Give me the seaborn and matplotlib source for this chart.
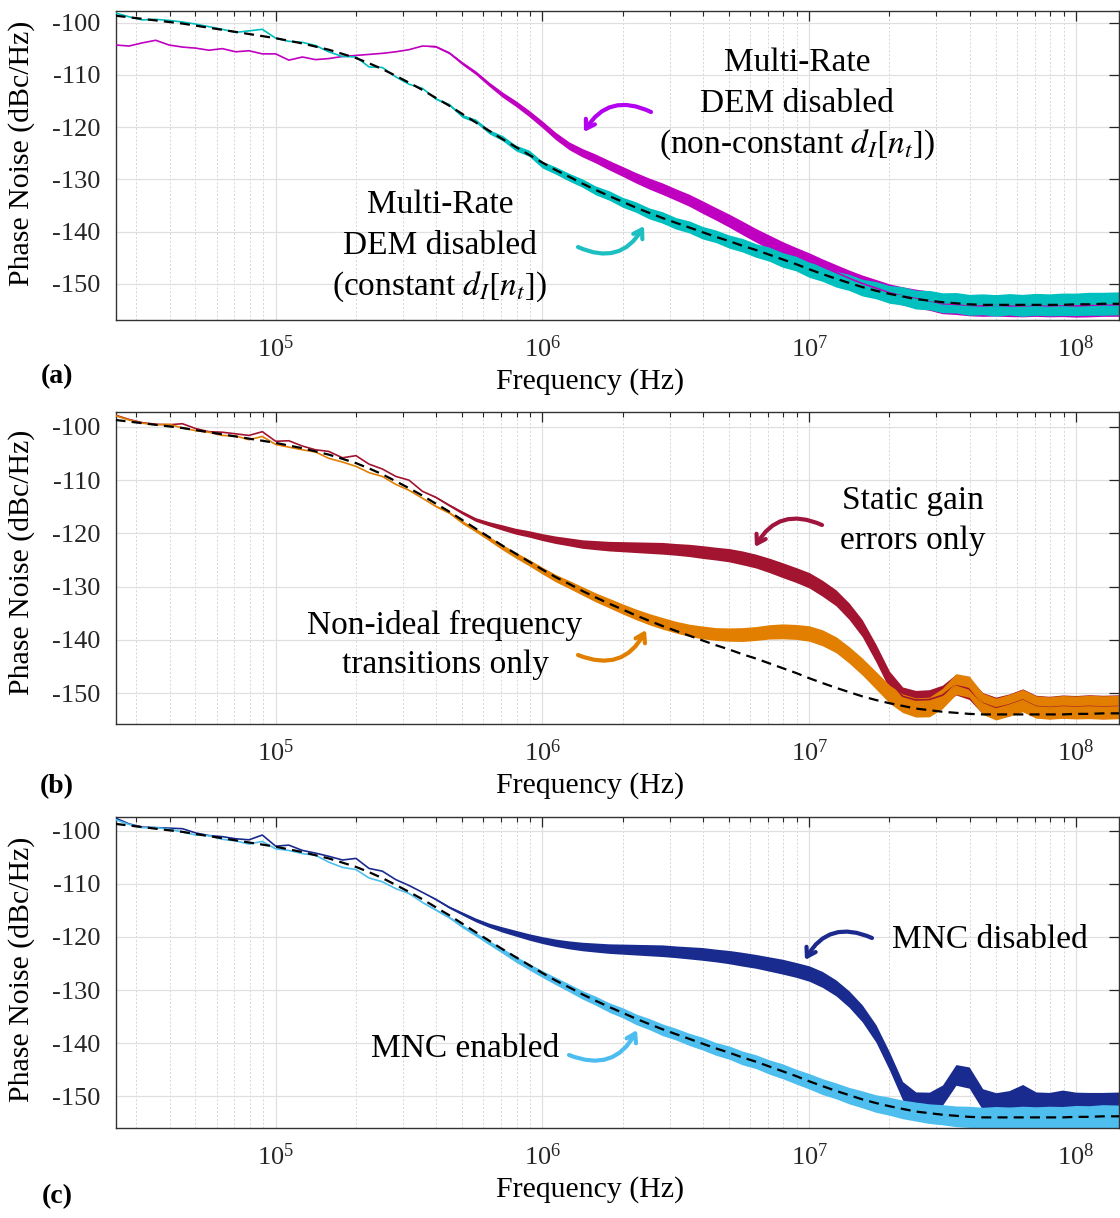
import numpy as np
import matplotlib
matplotlib.use('Agg')
import matplotlib.pyplot as plt
from matplotlib.ticker import LogLocator, NullFormatter, MultipleLocator
import seaborn as sns

# frequency grid (Hz), 0.05 decade steps
freq_hz = [2.51e4, 2.82e4, 3.16e4, 3.55e4, 3.98e4, 4.47e4, 5.01e4, 5.62e4, 6.31e4, 7.08e4, 7.94e4, 8.91e4,
           1.00e5, 1.12e5, 1.26e5, 1.41e5, 1.58e5, 1.78e5, 2.00e5, 2.24e5, 2.51e5, 2.82e5,
           3.16e5, 3.55e5, 3.98e5, 4.47e5, 5.01e5, 5.62e5, 6.31e5, 7.08e5, 7.94e5, 8.91e5,
           1.00e6, 1.12e6, 1.26e6, 1.41e6, 1.58e6, 1.78e6, 2.00e6, 2.24e6, 2.51e6, 2.82e6,
           3.16e6, 3.55e6, 3.98e6, 4.47e6, 5.01e6, 5.62e6, 6.31e6, 7.08e6, 7.94e6, 8.91e6,
           1.00e7, 1.12e7, 1.26e7, 1.41e7, 1.58e7, 1.78e7, 2.00e7, 2.24e7, 2.51e7, 2.82e7,
           3.16e7, 3.55e7, 3.98e7, 4.47e7, 5.01e7, 5.62e7, 6.31e7, 7.08e7, 7.94e7, 8.91e7,
           1.00e8, 1.12e8, 1.26e8, 1.50e8]

# dashed model curve (dBc/Hz)
model_pn = [-98.7, -99.0, -99.3, -99.6, -99.9, -100.2, -100.6, -101.0, -101.4, -101.8, -102.2, -102.6,
            -103.0, -103.5, -104.0, -104.6, -105.2, -106.0, -106.8, -107.8, -108.9, -110.2,
            -111.5, -112.9, -114.4, -115.9, -117.5, -119.1, -120.7, -122.3, -123.8, -125.3,
            -126.8, -128.2, -129.5, -130.8, -132.0, -133.2, -134.3, -135.4, -136.4, -137.4,
            -138.3, -139.2, -140.1, -141.0, -141.8, -142.7, -143.5, -144.4, -145.3, -146.2,
            -147.2, -148.1, -149.0, -149.8, -150.6, -151.3, -151.9, -152.4, -152.9, -153.2,
            -153.5, -153.7, -153.9, -154.0, -154.0, -154.0, -154.0, -154.0, -154.0, -154.0,
            -153.9, -153.9, -153.8, -153.8]

# half width of the noise band (dB)
spread_db = [0.0] * 24 + [
    0.15, 0.2, 0.3, 0.35, 0.4, 0.5, 0.55, 0.6,
    0.65, 0.7, 0.75, 0.8, 0.85, 0.9, 0.95, 1.0, 1.05, 1.1,
    1.1, 1.15, 1.2, 1.2, 1.25, 1.3, 1.3, 1.35, 1.4, 1.4,
    1.45, 1.5, 1.5, 1.55, 1.6, 1.65, 1.7, 1.75, 1.8, 1.85,
    1.9, 1.95, 2.0, 2.0, 2.05, 2.05, 2.1, 2.1, 2.1, 2.15,
    2.15, 2.2, 2.2, 2.2]

# (a) DEM disabled, non-constant / constant
pn_a_noncon = [-104.3, -104.5, -103.9, -103.4, -104.3, -104.7, -104.9, -105.3, -105.0, -105.6, -105.4, -106.0,
               -106.0, -107.2, -106.6, -107.1, -106.9, -106.5, -106.3, -106.1, -105.9, -105.6,
               -105.2, -104.5, -104.6, -105.8, -107.8, -109.6, -111.8, -113.8, -115.5, -117.4,
               -119.5, -121.7, -123.6, -124.9, -126.0, -127.3, -128.5, -129.7, -130.8, -131.8,
               -132.9, -134.0, -135.3, -136.6, -137.9, -139.3, -140.7, -142.0, -143.3, -144.4,
               -145.5, -146.7, -147.8, -148.9, -149.9, -150.8, -151.7, -152.3, -152.8, -153.2,
               -153.8, -153.9, -154.1, -154.2, -154.1, -154.2, -154.2, -154.1, -154.2, -154.1,
               -154.2, -154.1, -154.0, -154.0]
pn_a_con = [-98.2, -98.9, -99.5, -99.4, -99.6, -99.9, -100.3, -100.8, -101.3, -101.9, -101.6, -101.3,
            -103.0, -103.6, -103.8, -104.4, -105.6, -106.5, -106.6, -108.5, -108.6, -110.4,
            -111.8, -112.6, -114.6, -115.7, -117.9, -118.8, -120.9, -122.1, -124.0, -125.0,
            -127.2, -128.3, -129.6, -130.7, -132.1, -133.1, -134.4, -135.3, -136.5, -137.3,
            -138.4, -139.1, -140.2, -140.9, -141.9, -142.6, -143.6, -144.3, -145.4, -146.1,
            -147.3, -148.0, -149.1, -149.7, -150.7, -151.2, -152.0, -152.3, -153.0, -153.1,
            -153.6, -153.6, -154.0, -153.9, -154.1, -153.9, -154.1, -153.9, -154.0, -153.9,
            -153.9, -153.8, -153.8, -153.7]

# (b) static gain errors / non-ideal frequency transitions
pn_b_gain = [-97.8, -98.6, -99.2, -99.5, -99.6, -99.4, -100.3, -100.9, -101.0, -101.3, -101.6, -100.9,
             -102.7, -102.6, -103.6, -104.3, -104.6, -105.8, -105.4, -107.0, -107.9, -109.3,
             -110.0, -112.1, -113.2, -114.7, -116.1, -117.4, -118.2, -118.9, -119.6, -120.1,
             -120.7, -121.2, -121.6, -122.0, -122.2, -122.4, -122.5, -122.6, -122.7, -122.8,
             -123.0, -123.2, -123.5, -123.8, -124.1, -124.6, -125.2, -126.0, -126.9, -127.8,
             -128.8, -130.3, -132.1, -134.6, -137.8, -142.5, -147.6, -150.6, -151.3, -151.2,
             -150.4, -148.4, -149.2, -151.9, -152.8, -152.2, -151.3, -152.5, -152.7, -152.5,
             -152.6, -152.5, -152.6, -152.5]
pn_b_trans = [-97.9, -98.7, -99.3, -99.6, -99.5, -100.2, -100.7, -101.0, -101.6, -101.7, -102.4, -101.8,
              -103.3, -103.8, -104.3, -104.7, -105.9, -106.6, -107.4, -108.6, -109.3, -110.8,
              -111.9, -113.4, -114.9, -116.1, -117.9, -119.4, -121.0, -122.6, -124.1, -125.5,
              -127.0, -128.4, -129.6, -130.8, -132.0, -133.1, -134.2, -135.2, -136.1, -136.9,
              -137.6, -138.2, -138.6, -138.9, -139.0, -139.0, -138.8, -138.5, -138.4, -138.5,
              -138.8, -139.6, -140.9, -142.8, -145.0, -147.6, -150.2, -151.9, -152.7, -152.6,
              -151.0, -148.3, -148.8, -152.0, -153.0, -152.3, -151.4, -152.6, -152.8, -152.6,
              -152.7, -152.6, -152.7, -152.6]

# (c) MNC disabled / enabled
pn_c_off = [-97.6, -98.7, -99.3, -99.4, -99.5, -99.6, -100.4, -100.9, -101.1, -101.5, -101.7, -100.8,
            -102.9, -102.7, -103.7, -104.2, -104.8, -105.5, -105.2, -107.1, -107.6, -109.2,
            -110.3, -111.6, -112.9, -114.4, -115.6, -116.8, -117.8, -118.6, -119.3, -120.0,
            -120.6, -121.1, -121.5, -121.8, -122.0, -122.2, -122.3, -122.4, -122.5, -122.6,
            -122.8, -123.0, -123.2, -123.5, -123.8, -124.2, -124.6, -125.1, -125.6, -126.2,
            -126.9, -128.0, -129.6, -131.7, -134.4, -138.2, -143.4, -149.0, -151.0, -151.1,
            -149.8, -146.0, -146.5, -150.6, -151.4, -151.0, -149.9, -151.3, -151.4, -151.0,
            -151.4, -151.5, -151.5, -151.4]
pn_c_on = [-97.9, -98.8, -99.4, -99.4, -99.7, -100.2, -100.8, -100.9, -101.6, -101.9, -102.5, -102.0,
           -103.4, -103.7, -104.3, -104.6, -105.9, -106.9, -107.3, -108.9, -109.6, -110.9,
           -111.8, -113.5, -114.9, -116.3, -118.0, -119.5, -121.1, -122.6, -124.2, -125.6,
           -127.0, -128.3, -129.6, -130.9, -132.0, -133.3, -134.3, -135.5, -136.4, -137.5,
           -138.3, -139.3, -140.1, -141.1, -141.8, -142.8, -143.5, -144.5, -145.3, -146.3,
           -147.2, -148.2, -149.0, -149.9, -150.6, -151.4, -151.9, -152.5, -152.9, -153.3,
           -153.5, -153.8, -153.9, -154.1, -154.0, -154.1, -154.0, -154.1, -154.0, -154.1,
           -153.9, -154.0, -153.8, -153.9]

W, H = 1120, 1218

sns.set_style('white')
plt.rcParams['font.family'] = ['Liberation Serif', 'DejaVu Serif']
plt.rcParams['mathtext.fontset'] = 'stix'
plt.rcParams['axes.unicode_minus'] = False
plt.rcParams['text.color'] = 'black'
plt.rcParams['axes.labelcolor'] = 'black'


def fig_xy(x, y):
    # image pixel (from top-left) -> figure fraction
    return (x / W, 1 - y / H)


panels = [
    dict(box=(116, 11, 1119, 320), ylim=(-156.9, -97.8), ylab_y=0.539, tag='(a)', tag_y=377,
         traces=[(pn_a_noncon, '#C000C0'), (pn_a_con, '#00BFBF')],
         texts=[('Multi-Rate', 797, 63), ('DEM disabled', 797, 104), ('(non-constant $d_I[n_t]$)', 797, 145),
                ('Multi-Rate', 440, 205), ('DEM disabled', 440, 246), ('(constant $d_I[n_t]$)', 440, 287)],
         arrows=[((651, 112), (584, 132), '#B400F0'), ((578, 247), (644, 226), '#1DBFC0')]),
    dict(box=(116, 412, 1119, 724), ylim=(-155.8, -97.2), ylab_y=0.519, tag='(b)', tag_y=787,
         traces=[(pn_b_gain, '#A2142F'), (pn_b_trans, '#E27E00')],
         texts=[('Static gain', 913, 501), ('errors only', 913, 541),
                ('Non-ideal frequency', 445, 625), ('transitions only', 445, 665)],
         arrows=[((822, 525), (755, 547), '#A0153E'), ((578, 655), (646, 630), '#E07F00')]),
    dict(box=(116, 817, 1119, 1128), ylim=(-156.0, -97.4), ylab_y=0.511, tag='(c)', tag_y=1197,
         traces=[(pn_c_off, '#1A2B8F'), (pn_c_on, '#4DBEEE')],
         texts=[('MNC disabled', 990, 940), ('MNC enabled', 465, 1049)],
         arrows=[((872, 938), (805, 960), '#1B2A8C'), ((569, 1055), (637, 1030), '#4DBDF0')]),
]

fig = plt.figure(figsize=(W / 100, H / 100), dpi=100)
spread = np.array(spread_db)

for p in panels:
    l, t, r, b = p['box']
    ax = fig.add_axes([l / W, 1 - b / H, (r - l) / W, (b - t) / H])
    ax.set_xscale('log')

    for vals, col in p['traces']:
        v = np.array(vals)
        ax.fill_between(freq_hz, v - spread, v + spread, color=col, lw=0, zorder=2)
        sns.lineplot(x=freq_hz, y=vals, ax=ax, color=col, lw=1.2, estimator=None, sort=False, zorder=3)
    sns.lineplot(x=freq_hz, y=model_pn, ax=ax, color='black', lw=1.6, estimator=None, sort=False, zorder=4)
    ax.lines[-1].set_dashes([4.5, 2.8])

    ax.set_xlim(2.52e4, 1.45e8)
    ax.set_ylim(*p['ylim'])
    ax.xaxis.set_major_locator(LogLocator(base=10))
    ax.xaxis.set_minor_locator(LogLocator(base=10, subs=np.arange(2, 10)))
    ax.xaxis.set_minor_formatter(NullFormatter())
    ax.yaxis.set_major_locator(MultipleLocator(10))

    ax.grid(which='major', axis='both', color='#E0E0E0', lw=0.9, zorder=0)
    ax.grid(which='minor', axis='x', color='#D5D5D5', lw=0.7, ls=(0, (2, 2)), zorder=0)
    ax.set_axisbelow(True)

    ax.tick_params(which='both', direction='in', top=True, right=True, color='#262626',
                   labelcolor='#262626')
    ax.tick_params(which='major', length=7, width=0.9, labelsize=19, pad=11)
    ax.tick_params(which='minor', length=3.6, width=0.8)
    for s in ax.spines.values():
        s.set_color('#333333')
        s.set_linewidth(1.0)

    hpx = b - t
    ax.set_xlabel('Frequency (Hz)', fontsize=21.5)
    ax.xaxis.label.set_va('center')
    ax.xaxis.set_label_coords((590 - l) / (r - l), -62 / hpx)
    ax.set_ylabel('Phase Noise (dBc/Hz)', fontsize=21.5)
    ax.yaxis.label.set_va('center')
    ax.yaxis.set_label_coords((22 - l) / (r - l), p['ylab_y'])

    for txt, x, y in p['texts']:
        fig.text(*fig_xy(x, y), txt, fontsize=24, ha='center', va='center', color='black')

    for tail, head, col in p['arrows']:
        ax.annotate('', xy=fig_xy(*head), xytext=fig_xy(*tail),
                    xycoords='figure fraction', textcoords='figure fraction',
                    arrowprops=dict(arrowstyle='->,head_length=0.6,head_width=0.38',
                                    connectionstyle='arc3,rad=0.45', color=col, lw=3,
                                    shrinkA=0, shrinkB=0))

    fig.text(*fig_xy(57, p['tag_y']), p['tag'], fontsize=20, fontweight='bold', ha='center', va='center',
             color='black')

fig.savefig('out.png', dpi=100)
